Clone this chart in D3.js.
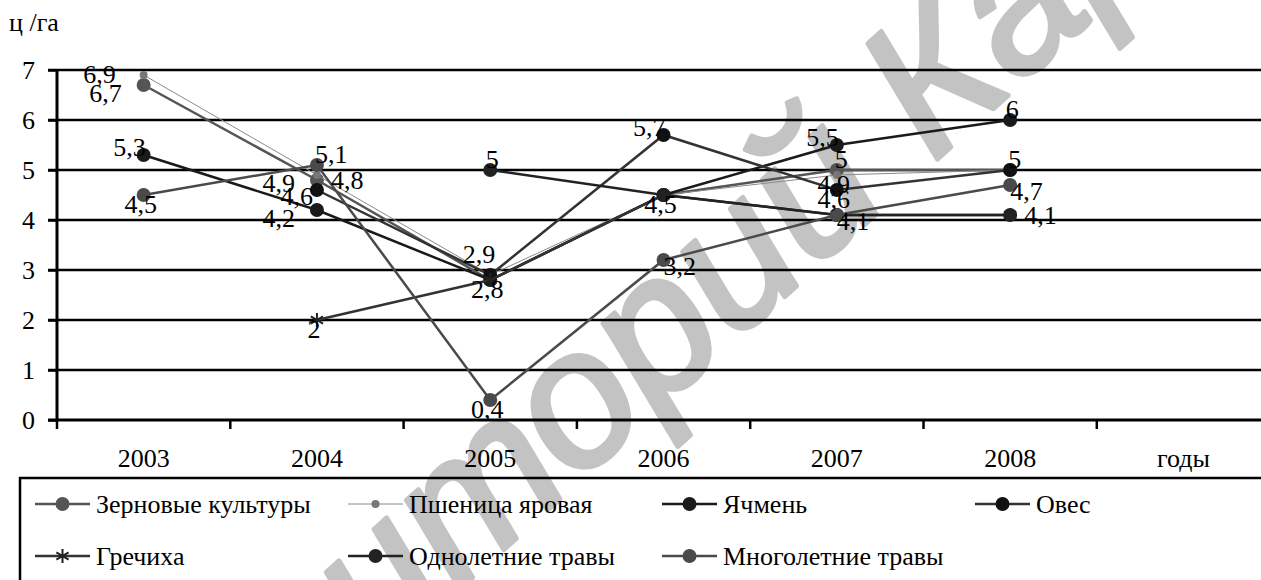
<!DOCTYPE html>
<html lang="ru">
<head>
<meta charset="UTF-8">
<title>Урожайность культур</title>
<script src="https://d3js.org/d3.v7.min.js"></script>
<style>
  body { margin: 0; background: #fff; }
  svg text { font-family: "Liberation Serif", "Times New Roman", Times, "DejaVu Serif", serif; }
  svg text.wm { font-family: "Liberation Sans", Arial, "DejaVu Sans", sans-serif; }
</style>
</head>
<body>
<div id="chart"></div>
<script>
// categories and axis texts
const years = ["2003", "2004", "2005", "2006", "2007", "2008"];
const xTitle = "годы";
const yTitle = "ц /га";
const yTicks = [0, 1, 2, 3, 4, 5, 6, 7];
const watermark = "Репозиторий КарГУ";

// series values, ц/га (null = no value)
const zernovye = [6.7, 4.8, 2.8, 4.5, 5.0, 5.0];
const pshenitsa = [6.9, 4.9, 2.9, 4.5, 4.9, 5.0];
const yachmen = [5.3, 4.2, 2.8, 4.5, 5.5, 6];
const oves = [null, 4.6, 2.9, 5.7, 4.6, 5];
const grechikha = [null, 2, 2.8, 4.5, 4.1, 4.1];
const odnoletnie = [null, null, 5, 4.5, 4.1, 4.1];
const mnogoletnie = [4.5, 5.1, 0.4, 3.2, 4.1, 4.7];

const seriesNames = ["Зерновые культуры", "Пшеница яровая", "Ячмень", "Овес",
    "Гречиха", "Однолетние травы", "Многолетние травы"];
const seriesValues = [zernovye, pshenitsa, yachmen, oves, grechikha, odnoletnie, mnogoletnie];

// which data labels are shown and on which side of the point
const labelSides = [
    ["BL", "R", "B", null, "AR", null],
    ["L", "BL", "UL", null, "B", null],
    ["AL", "BL", null, "B", "AL", "A"],
    [null, "LB", null, "AL", "B", "AR"],
    [null, "B", null, null, null, null],
    [null, null, "A", null, null, "R"],
    ["B", "AR", "B", "BR", "BR", "BR"]
];

// look of each series
const styles = [
    { line: "#555", width: 2.5, marker: "circle", fill: "#555", r: 7 },
    { line: "#8a8a8a", width: 1, marker: "circle", fill: "#777", r: 4 },
    { line: "#1a1a1a", width: 2.5, marker: "circle", fill: "#1a1a1a", r: 7 },
    { line: "#333", width: 2.5, marker: "circle", fill: "#111", r: 7 },
    { line: "#333", width: 2.5, marker: "star", fill: "#222", r: 7 },
    { line: "#222", width: 2.5, marker: "circle", fill: "#222", r: 7 },
    { line: "#4a4a4a", width: 2.5, marker: "circle", fill: "#4a4a4a", r: 7 }
];

const sideOffsets = {
    L: { anchor: "end", dx: -28, dy: 8 },
    BL: { anchor: "end", dx: -22, dy: 17 },
    LB: { anchor: "end", dx: -4, dy: 15 },
    AL: { anchor: "end", dx: 2, dy: 1 },
    UL: { anchor: "end", dx: 5, dy: -12 },
    A: { anchor: "middle", dx: 2, dy: -2 },
    AR: { anchor: "start", dx: -2, dy: -2 },
    R: { anchor: "start", dx: 14, dy: 9 },
    B: { anchor: "middle", dx: -3, dy: 18 },
    BR: { anchor: "start", dx: 0, dy: 15 }
};

const W = 1261, H = 580;
const fontSize = 26;

const svg = d3.select("#chart").append("svg")
    .attr("width", W)
    .attr("height", H);

const x = d3.scaleBand()
    .domain(years.concat([xTitle]))
    .range([57, 57 + 7 * 173.3])
    .padding(0);

const y = d3.scaleLinear()
    .domain([0, 7])
    .range([420, 70]);

const cx = d => x(d) + x.bandwidth() / 2;

// watermark behind everything: fit "и...а" to the span seen in the picture
const wmAngle = -42;
const wm = svg.append("text")
    .attr("class", "wm")
    .text(watermark)
    .attr("font-style", "italic")
    .attr("font-size", 100)
    .attr("fill", "#c3c3c3")
    .attr("stroke", "#c3c3c3")
    .attr("stroke-width", 5)
    .attr("stroke-linejoin", "round");
const wn = wm.node();
const charMid = i => wn.getSubStringLength(0, i) + wn.getSubStringLength(i, 1) / 2;
const wmSize = 100 * 860 / (charMid(13) - charMid(5));
wm.attr("font-size", wmSize);
const kMid = charMid(12);
const capHalf = 0.35 * wmSize;
const a = -wmAngle * Math.PI / 180;
wm.attr("x", -kMid)
    .attr("transform", `translate(${930 + capHalf * Math.sin(a)},${75 + capHalf * Math.cos(a)}) rotate(${wmAngle})`);

// gridlines
svg.append("g")
    .selectAll("line")
    .data(yTicks.filter(t => t > 0))
    .join("line")
    .attr("x1", 48).attr("x2", W)
    .attr("y1", d => y(d)).attr("y2", d => y(d))
    .attr("stroke", "#000")
    .attr("stroke-width", 2.5);

// y axis
const yAxis = svg.append("g")
    .attr("transform", "translate(57,0)")
    .call(d3.axisLeft(y).tickValues(yTicks).tickSize(9).tickPadding(13).tickFormat(d3.format("d")));
yAxis.attr("font-family", null);
yAxis.select(".domain").remove();
yAxis.selectAll(".tick line").attr("stroke", "#000").attr("stroke-width", 2.5);
yAxis.selectAll(".tick text")
    .attr("font-size", fontSize)
    .attr("fill", "#000");

svg.append("line")
    .attr("x1", 57).attr("x2", 57)
    .attr("y1", y(7)).attr("y2", y(0))
    .attr("stroke", "#000").attr("stroke-width", 3);

// x axis line and boundary ticks
svg.append("line")
    .attr("x1", 48).attr("x2", W)
    .attr("y1", y(0)).attr("y2", y(0))
    .attr("stroke", "#000").attr("stroke-width", 3);

svg.append("g")
    .selectAll("line")
    .data(x.domain())
    .join("line")
    .attr("x1", d => x(d)).attr("x2", d => x(d))
    .attr("y1", y(0)).attr("y2", y(0) + 9)
    .attr("stroke", "#000").attr("stroke-width", 2.5);

svg.append("g")
    .selectAll("text")
    .data(x.domain())
    .join("text")
    .attr("x", d => cx(d))
    .attr("y", y(0) + 47)
    .attr("text-anchor", "middle")
    .attr("font-size", fontSize)
    .text(d => d);

svg.append("text")
    .attr("x", 9)
    .attr("y", 31)
    .attr("font-size", fontSize)
    .text(yTitle);

// series lines, markers
const line = d3.line()
    .defined(d => d.v !== null)
    .x(d => cx(d.year))
    .y(d => y(d.v));

const star = d3.symbol().type(d3.symbolAsterisk).size(140);

function drawMarker(g, s, px, py) {
    if (s.marker === "star") {
        g.append("path")
            .attr("d", star())
            .attr("transform", `translate(${px},${py})`)
            .attr("fill", "none")
            .attr("stroke", s.fill)
            .attr("stroke-width", 2);
    } else {
        g.append("circle")
            .attr("cx", px).attr("cy", py).attr("r", s.r)
            .attr("fill", s.fill);
    }
}

seriesValues.forEach((vals, i) => {
    const s = styles[i];
    const pts = vals.map((v, j) => ({ year: years[j], v: v }));
    const g = svg.append("g");
    g.append("path")
        .datum(pts)
        .attr("d", line)
        .attr("fill", "none")
        .attr("stroke", s.line)
        .attr("stroke-width", s.width);
    pts.filter(p => p.v !== null).forEach(p => drawMarker(g, s, cx(p.year), y(p.v)));
});

// data labels on top
const fmt = v => String(v).replace(".", ",");
seriesValues.forEach((vals, i) => {
    vals.forEach((v, j) => {
        const side = labelSides[i][j];
        if (v === null || !side) return;
        const o = sideOffsets[side];
        svg.append("text")
            .attr("x", cx(years[j]) + o.dx)
            .attr("y", y(v) + o.dy)
            .attr("text-anchor", o.anchor)
            .attr("font-size", fontSize)
            .text(fmt(v));
    });
});

// legend
const legendCols = [35, 348, 662, 975];
const legendRows = [504, 556];
svg.append("rect")
    .attr("x", 20).attr("y", 478)
    .attr("width", W + 20).attr("height", 200)
    .attr("fill", "none")
    .attr("stroke", "#000")
    .attr("stroke-width", 2.5);

seriesNames.forEach((name, i) => {
    const s = styles[i];
    const lx = legendCols[i < 4 ? i : i - 4];
    const ly = legendRows[i < 4 ? 0 : 1];
    const g = svg.append("g");
    g.append("line")
        .attr("x1", lx).attr("x2", lx + 55)
        .attr("y1", ly).attr("y2", ly)
        .attr("stroke", s.line)
        .attr("stroke-width", s.width);
    drawMarker(g, s, lx + 27.5, ly);
    g.append("text")
        .attr("x", lx + 61)
        .attr("y", ly + 9)
        .attr("font-size", fontSize)
        .text(name);
});
</script>
</body>
</html>
